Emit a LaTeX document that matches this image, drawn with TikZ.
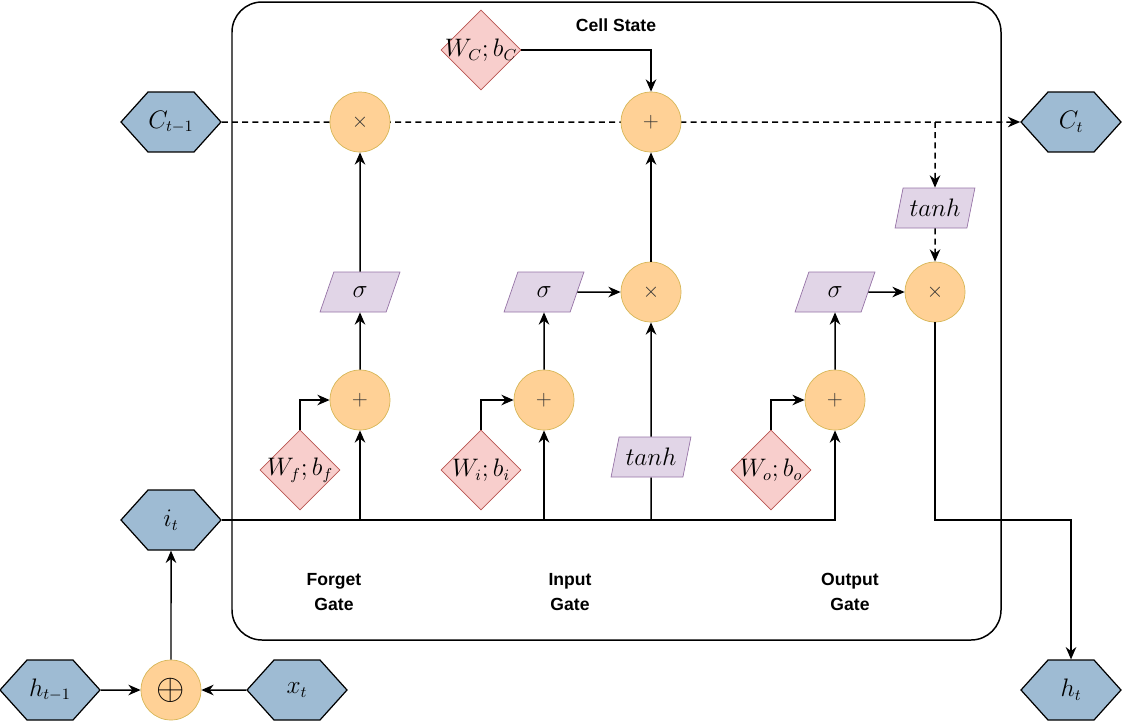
\documentclass[tikz,border=0pt]{standalone}
\usepackage{fontspec}
\setsansfont{Liberation Sans}
\usetikzlibrary{arrows.meta,positioning,shapes,backgrounds,calc}
\definecolor{hexfill}{HTML}{9EBBD3}
\definecolor{opfill}{HTML}{FFD196}
\definecolor{opline}{HTML}{D6B656}
\definecolor{wfill}{HTML}{F8CECC}
\definecolor{wline}{HTML}{B85450}
\definecolor{actfill}{HTML}{E1D5E7}
\definecolor{actline}{HTML}{9673A6}
\newcommand{\mathsize}{\fontsize{13.5}{16}\selectfont}
\tikzset{
	>={Stealth[length=7pt,width=6pt]},
	wire/.style={line width=0.85pt},
	hexnode/.style={signal, signal to=east and west, signal pointer angle=96, draw, fill=hexfill,
		line width=0.7pt, minimum width=2cm, minimum height=1.2cm, inner sep=0pt, font=\mathsize},
	opnode/.style={circle, draw=opline, fill=opfill, line width=0.4pt, minimum size=1.2cm, inner sep=0pt,
		font=\large, text=black!80},
	wnode/.style={diamond, draw=wline, fill=wfill, line width=0.4pt, minimum size=1.6cm, inner sep=0pt,
		label={[font=\mathsize]center:#1}},
	actnode/.style={trapezium, trapezium left angle=70, trapezium right angle=110, trapezium stretches=true,
		draw=actline, fill=actfill, line width=0.4pt, minimum width=1.6cm, minimum height=0.8cm, inner sep=0pt, font=\mathsize},
	gatelabel/.style={font=\sffamily\bfseries, align=center},
	flow/.style={wire, dash pattern=on 3.4pt off 2.4pt},
}

\begin{document}
\begin{tikzpicture}[x=0.02cm, y=-0.02cm, wire]
	\useasboundingbox (0,0) rectangle (1122,724);

	% inputs and outputs
	\node[hexnode] (cprev) at (171,122) {$C_{t-1}$};
	\node[hexnode] (cnext) at (1071,122) {$C_t$};
	\node[hexnode] (it) at (171,520) {$i_t$};
	\node[hexnode] (hprev) at (50,690) {$h_{t-1}$};
	\node[hexnode] (xt) at (297,690) {$x_t$};
	\node[hexnode] (ht) at (1071,690) {$h_t$};
	\node[opnode, text=black] (concat) at (171,690) {\huge$\oplus$};

	% cell state
	\node[font=\sffamily\bfseries] (celltitle) at (616,25) {Cell State};
	\node[opnode] (ftimes) at (360,122) {$\times$};
	\node[opnode] (cplus) at (651,122) {$+$};
	\node[wnode={$W_C;b_C$}] (wc) at (481,50) {};

	% forget gate
	\node[actnode] (fsig) at (360,292) {$\sigma$};
	\node[opnode] (fplus) at (360,400) {$+$};
	\node[wnode={$W_f;b_f$}] (wf) at (300,470) {};

	% input gate
	\node[actnode] (isig) at (544,292) {$\sigma$};
	\node[opnode] (iplus) at (544,400) {$+$};
	\node[wnode={$W_i;b_i$}] (wi) at (481,470) {};
	\node[opnode] (itimes) at (651,292) {$\times$};
	\node[actnode] (itanh) at (651,457) {$tanh$};

	% output gate
	\node[actnode] (osig) at (835,292) {$\sigma$};
	\node[opnode] (oplus) at (835,400) {$+$};
	\node[wnode={$W_o;b_o$}] (wo) at (771,470) {};
	\node[opnode] (otimes) at (935,292) {$\times$};
	\node[actnode] (otanh) at (935,208) {$tanh$};

	\node[gatelabel] (fgate) at (334,592) {Forget\\[2pt]Gate};
	\node[gatelabel] (igate) at (570,592) {Input\\[2pt]Gate};
	\node[gatelabel] (ogate) at (850,592) {Output\\[2pt]Gate};

	\begin{scope}[on background layer]
		\draw[wire, rounded corners=0.6cm] (232,2) rectangle (1001,640);
		\draw[->, flow] (cprev) -- (cnext);
		\draw[->, flow] (cplus -| otanh) -- (otanh);
		\draw[wire] (itanh |- it) -- (itanh);
	\end{scope}

	\draw[->, flow] (otanh) -- (otimes);
	\draw[->] (wc) -| (cplus);

	\draw[->] (it) -| (oplus);
	\draw[->] (fplus |- it) -- (fplus);
	\draw[->] (iplus |- it) -- (iplus);

	\draw[->] (wf) |- (fplus);
	\draw[->] (fplus) -- (fsig);
	\draw[->] (fsig) -- (ftimes);

	\draw[->] (wi) |- (iplus);
	\draw[->] (iplus) -- (isig);
	\draw[->] (isig) -- (itimes);
	\draw[->] (itanh) -- (itimes);
	\draw[->] (itimes) -- (cplus);

	\draw[->] (wo) |- (oplus);
	\draw[->] (oplus) -- (osig);
	\draw[->] (osig) -- (otimes);
	\draw[->] (otimes) -- (otimes |- it) -| (ht);

	\draw[->] (hprev) -- (concat);
	\draw[->] (xt) -- (concat);
	\draw[->] (concat) -- (it);
\end{tikzpicture}
\end{document}
